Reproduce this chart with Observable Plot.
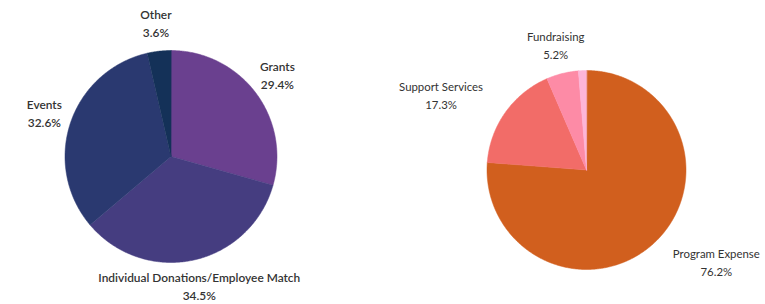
<!DOCTYPE html>
<html><head><meta charset="utf-8">
<script src="https://cdn.jsdelivr.net/npm/d3@7"></script>
<script src="https://cdn.jsdelivr.net/npm/@observablehq/plot@0.6"></script>
<style>html,body{margin:0;padding:0;background:#fff}</style>
</head><body><div id="chart"></div>
<script>
// ---- data ----
const revenueCategories = ["Grants", "Individual Donations/Employee Match", "Events", "Other"];
const revenueValues = [29.4, 34.5, 32.6, 3.6];
const revenueLabels = ["29.4%", "34.5%", "32.6%", "3.6%"];

const expenseCategories = ["Program Expense", "Support Services", "Fundraising", ""];
const expenseValues = [76.2, 17.3, 5.2, 1.3];
const expenseLabels = ["76.2%", "17.3%", "5.2%", ""];

// ---- styles ----
const revenueColors = ["#6a408f", "#453d80", "#2a3970", "#143158"];
const expenseColors = ["#d15f1e", "#f26c68", "#fd8ba6", "#fdb5d8"];

const W = 765, H = 304;
const FONT = "Lato, 'Open Sans', sans-serif";
const FS_LEFT = 11.9, FS_RIGHT = 11.4;

const canvas = document.createElement("canvas");
const ctx = canvas.getContext("2d");
function textWidth(s, weight, fs) {
  ctx.font = `${weight} ${fs}px Lato`;
  return ctx.measureText(s).width;
}

function buildPie(cats, vals, pcts, colors, cx, cy, r, labelR, align, weight, fs, prefix) {
  const arcs = d3.pie().sort(null).value(d => d)(vals);
  const pts = [];
  const labels = [];
  arcs.forEach((a, i) => {
    const key = prefix + i;
    const n = Math.max(4, Math.ceil((a.endAngle - a.startAngle) / 0.01));
    pts.push({x: cx, y: cy, key, color: colors[i]});
    for (let k = 0; k <= n; k++) {
      const t = a.startAngle + (a.endAngle - a.startAngle) * k / n;
      pts.push({x: cx + r * Math.sin(t), y: cy - r * Math.cos(t), key, color: colors[i]});
    }
    if (cats[i]) {
      const m = (a.startAngle + a.endAngle) / 2;
      const s = Math.sin(m), c = Math.cos(m);
      let px = cx + labelR * s, py = cy - labelR * c;
      const w = Math.max(textWidth(cats[i], weight, fs), textWidth(pcts[i], weight, fs));
      if (align === "edge") {
        if (s > 0.3) px += w / 2;
        else if (s < -0.3) px -= w / 2;
      }
      labels.push({x: px, y: py - 9, text: cats[i]});
      labels.push({x: px, y: py + 9, text: pcts[i]});
    }
  });
  return {pts, labels};
}

const left = buildPie(revenueCategories, revenueValues, revenueLabels, revenueColors,
  170.5, 156, 106, 133.5, "center", 600, FS_LEFT, "rev");
const right = buildPie(expenseCategories, expenseValues, expenseLabels, expenseColors,
  586, 169.5, 99.5, 127, "edge", 400, FS_RIGHT, "exp");

const allPts = left.pts.concat(right.pts);
const leftLabels = left.labels, rightLabels = right.labels;

const chart = Plot.plot({
  width: W, height: H,
  margin: 0,
  x: {domain: [0, W], range: [0, W], axis: null},
  y: {domain: [0, H], range: [0, H], axis: null},
  color: {type: "identity"},
  style: {fontFamily: FONT, background: "#fff"},
  marks: [
    Plot.line(allPts, {x: "x", y: "y", z: "key", fill: "color", stroke: "color", strokeWidth: 0.5, curve: "linear-closed"}),
    Plot.text(leftLabels, {x: "x", y: "y", text: "text", fontSize: FS_LEFT, fontWeight: 600, fill: "#333", textAnchor: "middle", lineAnchor: "middle"}),
    Plot.text(rightLabels, {x: "x", y: "y", text: "text", fontSize: FS_RIGHT, fontWeight: 400, fill: "#333", textAnchor: "middle", lineAnchor: "middle"})
  ]
});
document.getElementById("chart").appendChild(chart);
</script>
</body></html>
